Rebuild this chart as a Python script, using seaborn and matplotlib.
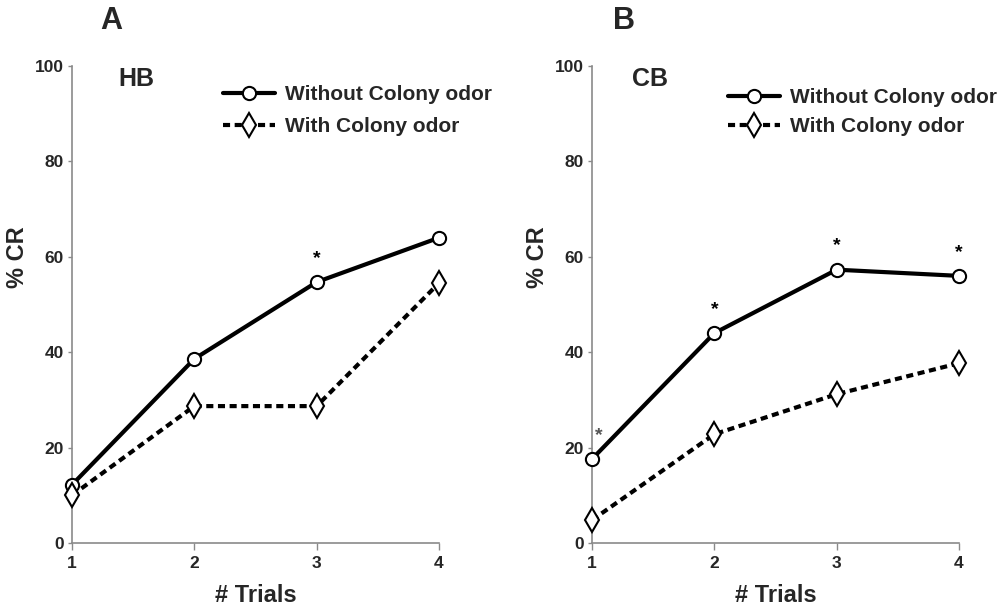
import matplotlib
matplotlib.use("Agg")
import matplotlib.pyplot as plt
import seaborn as sns
import pandas as pd

trials = [1, 2, 3, 4]
hb_without = [12.2, 38.6, 54.7, 64.0]
hb_with = [10.0, 28.7, 28.7, 54.5]
cb_without = [17.6, 44.0, 57.3, 56.0]
cb_with = [4.8, 22.8, 31.2, 37.7]
hb_stars = [3]
cb_stars = [1, 2, 3, 4]
yticks = [0, 20, 40, 60, 80, 100]
label_without = "Without Colony odor"
label_with = "With Colony odor"

sns.set_theme(style="white")
plt.rcParams["font.family"] = ["Liberation Sans", "DejaVu Sans"]
plt.rcParams["font.weight"] = "bold"

fig = plt.figure(figsize=(10.04, 6.07), dpi=100)
W, H = 1004, 607
axA = fig.add_axes([72 / W, 1 - 543 / H, 367 / W, 477 / H])
axB = fig.add_axes([592 / W, 1 - 543 / H, 367 / W, 477 / H])

panels = [
    (axA, hb_without, hb_with, hb_stars, "HB", "A", (287, 85), 0.125, 0.076, 0.62),
    (axB, cb_without, cb_with, cb_stars, "CB", "B", (792, 88), 0.109, 0.057, 0.48),
]

for ax, wo, wi, stars, name, letter, legpos, namex, letx, lspace in panels:
    df = pd.DataFrame({"Trial": trials, "without": wo, "with": wi})
    sns.lineplot(data=df, x="Trial", y="without", ax=ax, color="black",
                 linewidth=3.0, marker="o", markersize=9.5,
                 markerfacecolor="white", markeredgecolor="black",
                 markeredgewidth=1.5, label=label_without, clip_on=False,
                 errorbar=None, zorder=3)
    sns.lineplot(data=df, x="Trial", y="with", ax=ax, color="black",
                 linewidth=3.0, linestyle=(0, (1.7, 1.1)), marker="d",
                 markersize=12, markerfacecolor="white",
                 markeredgecolor="black", markeredgewidth=1.5,
                 label=label_with, clip_on=False, errorbar=None, zorder=3)
    ax.set_xlim(1, 4)
    ax.set_ylim(0, 100)
    ax.set_xticks(trials)
    ax.set_yticks(yticks)
    ax.set_xticklabels([str(t) for t in trials], fontsize=12.5, fontweight="bold")
    ax.set_yticklabels([str(t) for t in yticks], fontsize=12.5, fontweight="bold")
    for s in ["top", "right"]:
        ax.spines[s].set_visible(False)
    for s in ["left", "bottom"]:
        ax.spines[s].set_color("#8a8a8a")
        ax.spines[s].set_linewidth(1.2)
    ax.tick_params(axis="y", which="major", left=True, length=3, width=1,
                   color="#8a8a8a", pad=3)
    ax.tick_params(axis="x", which="major", bottom=True, length=5, width=1,
                   color="#8a8a8a", pad=4)
    ax.set_ylabel("% CR", fontsize=17, fontweight="bold")
    ax.set_xlabel("# Trials", fontsize=17, fontweight="bold")
    ax.yaxis.set_label_coords(-0.118, 0.60)
    ax.xaxis.set_label_coords(0.5, -0.085)
    ax.text(namex, 0.972, name, transform=ax.transAxes, fontsize=18,
            fontweight="bold", va="center", ha="left")
    ax.text(letx, 1.094, letter, transform=ax.transAxes, fontsize=22,
            fontweight="bold", va="center", ha="left")
    for t in stars:
        yv = wo[trials.index(t)]
        dx = 5 if t == 1 else 0
        col = "#555555" if t == 1 else "black"
        ax.annotate("*", xy=(t, yv), xytext=(dx, 11), textcoords="offset points",
                    ha="center", va="bottom", fontsize=14, fontweight="bold",
                    color=col, annotation_clip=False)
    leg = ax.legend(loc="upper left",
                    bbox_to_anchor=((legpos[0] - 64) / W, 1 - legpos[1] / H),
                    bbox_transform=fig.transFigure, frameon=False,
                    fontsize=15, handlelength=2.5, handletextpad=0.5,
                    labelspacing=lspace, borderaxespad=0, borderpad=0)
    for txt in leg.get_texts():
        txt.set_fontweight("bold")

fig.savefig("out.png", dpi=100)
